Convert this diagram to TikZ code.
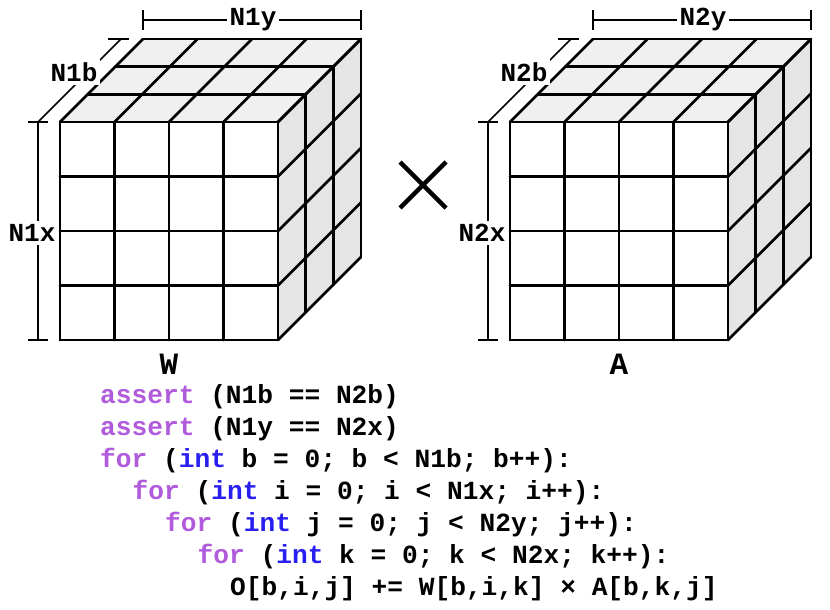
\documentclass[tikz,border=0pt]{standalone}
\usepackage{fontspec}
\setmonofont{Liberation Mono}
\usepackage{tikz}
\usetikzlibrary{positioning}
\definecolor{kwpurple}{RGB}{176,90,220}
\definecolor{kwblue}{RGB}{40,30,240}
\definecolor{topgray}{RGB}{240,240,240}
\definecolor{sidegray}{RGB}{229,229,229}
\newcommand*{\kw}[1]{\textcolor{kwpurple}{#1}}
\newcommand*{\ty}[1]{\textcolor{kwblue}{#1}}

\begin{document}
\frenchspacing
\begin{tikzpicture}[x=1pt,y=-1pt,
    grid_line/.style ={draw=black, line width=2.8pt, line cap=round, line join=round},
    dim_line/.style ={draw=black, line width=1.6pt},
    dim_label/.style ={fill=white, inner sep=3pt,
      font=\ttfamily\bfseries\fontsize{26}{26}\selectfont},
    cube_label/.style ={inner sep=0pt,
      font=\ttfamily\bfseries\fontsize{31}{31}\selectfont},
    code_line/.style ={anchor=base west, inner sep=0pt,
      font=\ttfamily\bfseries\fontsize{26.2}{32}\selectfont}]
    \useasboundingbox (0,0) rectangle (830,610);
    % the two tensors, 4x4 front face, 3 layers deep
    \foreach \xs/\tname/\bdim/\ydim/\xdim in {0/W/N1b/N1y/N1x, 450/A/N2b/N2y/N2x} {
      \begin{scope}[shift={(\xs,0)}]
        % faces
        \fill[topgray] (60,122) -- (143,39) -- (361,39) -- (278,122) -- cycle;
        \fill[sidegray] (278,122) -- (361,39) -- (361,257) -- (278,340) -- cycle;
        \fill[white] (60,122) rectangle (278,340);
        % front grid
        \foreach \i in {0,...,4} {
          \draw[grid_line] (60+54.5*\i,122) -- (60+54.5*\i,340);
          \draw[grid_line] (60,122+54.5*\i) -- (278,122+54.5*\i);
        }
        % top and side grid
        \foreach \i in {0,...,4} {
          \draw[grid_line] (60+54.5*\i,122) -- (143+54.5*\i,39);
          \draw[grid_line] (278,122+54.5*\i) -- (361,39+54.5*\i);
        }
        \foreach \k in {1,2,3} {
          \draw[grid_line] (60+27.667*\k,122-27.667*\k) -- (278+27.667*\k,122-27.667*\k);
          \draw[grid_line] (278+27.667*\k,122-27.667*\k) -- (278+27.667*\k,340-27.667*\k);
        }
        % dimension marks
        \coordinate (\tname_y0) at (143,20);
        \coordinate (\tname_y1) at (361,20);
        \coordinate (\tname_x0) at (38,122);
        \coordinate (\tname_x1) at (38,340);
        \coordinate (\tname_b1) at (121,39);
        \draw[dim_line] (\tname_y0) -- (\tname_y1);
        \draw[dim_line] ([yshift=-10pt]\tname_y0) -- ([yshift=10pt]\tname_y0);
        \draw[dim_line] ([yshift=-10pt]\tname_y1) -- ([yshift=10pt]\tname_y1);
        \draw[dim_line] (\tname_x0) -- (\tname_x1);
        \draw[dim_line] ([xshift=-10pt]\tname_x0) -- ([xshift=10pt]\tname_x0);
        \draw[dim_line] ([xshift=-10pt]\tname_x1) -- ([xshift=10pt]\tname_x1);
        \draw[dim_line] (\tname_x0) -- (\tname_b1);
        \draw[dim_line] ([xshift=-13pt]\tname_b1) -- ([xshift=8pt]\tname_b1);
        \node[dim_label] (\tname_ylab) at (253,20) {\ydim};
        \node[dim_label] (\tname_xlab) at (32,233) {\xdim};
        \node[dim_label] (\tname_blab) at (74,72) {\bdim};
        \node[cube_label] (\tname_name) at (169,364) {\tname};
      \end{scope}
    }
    % times sign
    \coordinate (times) at (423,185);
    \draw[line width=4.5pt] ([shift={(-23,-23)}]times) -- ([shift={(23,23)}]times);
    \draw[line width=4.5pt] ([shift={(-23,23)}]times) -- ([shift={(23,-23)}]times);
    % code lines
    \node[code_line] (assert_b) at (100,403) {\kw{assert} (N1b == N2b)};
    \node[code_line] (assert_y) at (100,435) {\kw{assert} (N1y == N2x)};
    \node[code_line] (loop_b) at (100,467) {\kw{for} (\ty{int} b = 0; b < N1b; b++):};
    \node[code_line] (loop_i) at (132.5,499) {\kw{for} (\ty{int} i = 0; i < N1x; i++):};
    \node[code_line] (loop_j) at (165,531) {\kw{for} (\ty{int} j = 0; j < N2y; j++):};
    \node[code_line] (loop_k) at (197.5,563) {\kw{for} (\ty{int} k = 0; k < N2x; k++):};
    \node[code_line] (update) at (230,595) {O[b,i,j] += W[b,i,k] × A[b,k,j]};
\end{tikzpicture}
\end{document}
